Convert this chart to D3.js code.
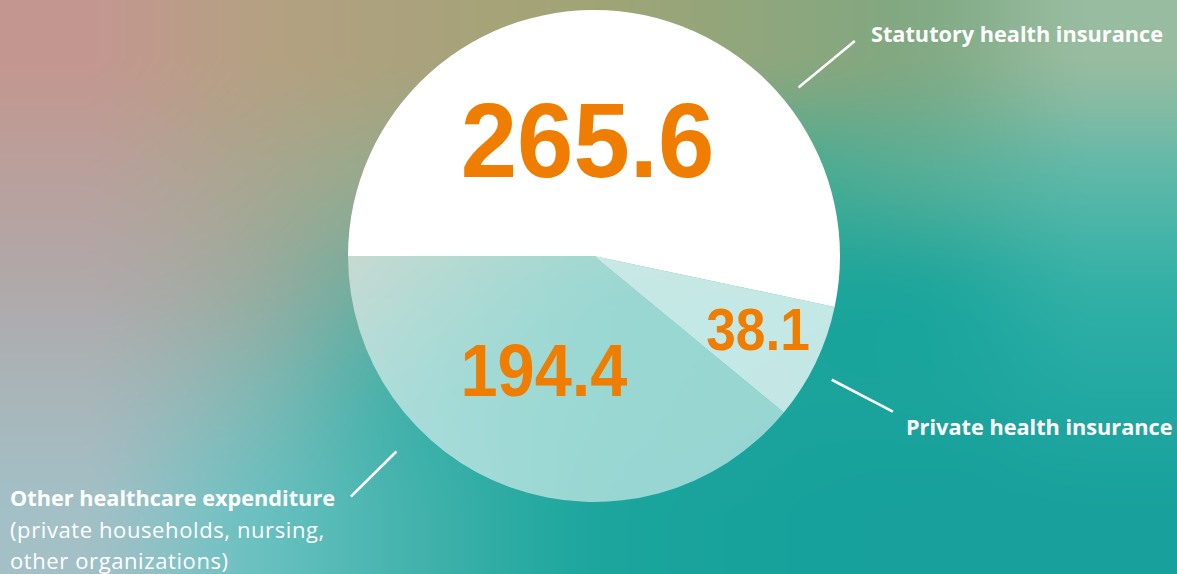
<!DOCTYPE html>
<html>
<head>
<meta charset="utf-8">
<script src="https://cdn.jsdelivr.net/npm/d3@7"></script>
<style>
  html, body { margin: 0; padding: 0; overflow: hidden; }
  svg { display: block; }
</style>
</head>
<body>
<script>
const categories = ['Statutory health insurance', 'Private health insurance', 'Other healthcare expenditure']
const values = [265.6, 38.1, 194.4]
const valueLabels = ['265.6', '38.1', '194.4']
const subLabels = [[], [], ['(private households, nursing,', 'other organizations)']]

const [width, height] = [1177, 574]
const [cx, cy] = [594, 256]
const R = 246

// look of each slice: fill, opacity, number size + horizontal squeeze, where the number sits (polar)
const sliceStyle = [
    {fill: '#ffffff', opacity: 1,    size: 105,  squeeze: 0.965, labelAngle: -3.2,  labelR: 116.7},
    {fill: '#ffffff', opacity: 0.74, size: 58.5, squeeze: 0.91,  labelAngle: 114.0, labelR: 179.5},
    {fill: '#ffffff', opacity: 0.55, size: 75,   squeeze: 0.89,  labelAngle: 203.9, labelR: 123.6}
]
// callouts: angle of the short white line (degrees, clockwise from 12 o'clock), text spot
const callouts = [
    {angle: 50.5,  r0: 265, r1: 338, x: 871, y: 42},
    {angle: 117.5, r0: 268, r1: 337, x: 906, y: 435},
    {angle: 225.3, r0: 278, r1: 342, x: 10,  y: 506}
]

// background colour field, sampled by eye (7 columns x 5 rows, left->right, top->bottom)
const bgGrid = [
    ['#c39790', '#b5a083', '#aaa27c', '#a0a476', '#90a67c', '#82aa84', '#98bca0'],
    ['#b9a09c', '#a8a690', '#8eaa8c', '#6aa890', '#4aaa92', '#56ae96', '#60b8a8'],
    ['#b0a9aa', '#98aca0', '#5cae9e', '#2aa89c', '#20a69a', '#20a69c', '#34b0a6'],
    ['#a8b6ba', '#80b8b4', '#3eb0a8', '#22a89e', '#1ba49c', '#1aa49c', '#22a8a2'],
    ['#a2c0c6', '#6cc0c0', '#42b2ac', '#1ea69e', '#18a29c', '#17a09c', '#18a09c']
]

const svg = d3.select('body')
    .append('svg')
        .attr('width', width)
        .attr('height', height)

// smooth (catmull-rom) colour field painted into a canvas, then used as the backdrop
const paintBackground = (grid) => {
    const rows = grid.length, cols = grid[0].length
    const rgb = grid.map(r => r.map(c => { const o = d3.rgb(c); return [o.r, o.g, o.b] }))
    const cr = (p0, p1, p2, p3, t) =>
        0.5 * (2 * p1 + (p2 - p0) * t + (2 * p0 - 5 * p1 + 4 * p2 - p3) * t * t + (3 * p1 - p0 - 3 * p2 + p3) * t * t * t)
    const clampI = (v, n) => Math.max(0, Math.min(n - 1, v))
    const canvas = document.createElement('canvas')
    canvas.width = width
    canvas.height = height
    const ctx = canvas.getContext('2d')
    const img = ctx.createImageData(width, height)
    // interpolate each grid row along x once per column
    const rowLine = rgb.map(row => {
        const line = new Float32Array(width * 3)
        for (let x = 0; x < width; x++) {
            const g = Math.max(0, Math.min(cols - 1, (x + 0.5) / width * cols - 0.5))
            const i = Math.min(cols - 2, Math.floor(g)), t = g - i
            for (let k = 0; k < 3; k++) {
                line[x * 3 + k] = cr(row[clampI(i - 1, cols)][k], row[i][k], row[i + 1][k], row[clampI(i + 2, cols)][k], t)
            }
        }
        return line
    })
    for (let y = 0; y < height; y++) {
        const g = Math.max(0, Math.min(rows - 1, (y + 0.5) / height * rows - 0.5))
        const j = Math.min(rows - 2, Math.floor(g)), t = g - j
        const a = rowLine[clampI(j - 1, rows)], b = rowLine[j], c = rowLine[j + 1], d = rowLine[clampI(j + 2, rows)]
        for (let x = 0; x < width; x++) {
            const p = (y * width + x) * 4
            for (let k = 0; k < 3; k++) {
                const q = x * 3 + k
                img.data[p + k] = cr(a[q], b[q], c[q], d[q], t)
            }
            img.data[p + 3] = 255
        }
    }
    ctx.putImageData(img, 0, 0)
    return canvas.toDataURL()
}

svg.append('image')
    .attr('href', paintBackground(bgGrid))
    .attr('width', width)
    .attr('height', height)
    .attr('preserveAspectRatio', 'none')

const pie = d3.pie()
    .sort(null)
    .startAngle(-Math.PI / 2)
    .endAngle(Math.PI * 1.5)
    .value(d => d)

const arcs = pie(values)
const arc = d3.arc().innerRadius(0).outerRadius(R)

const chart = svg.append('g').attr('transform', `translate(${cx},${cy})`)

chart.selectAll('path')
    .data(arcs)
    .enter()
    .append('path')
        .attr('d', arc)
        .attr('fill', (d, i) => sliceStyle[i].fill)
        .attr('fill-opacity', (d, i) => sliceStyle[i].opacity)

const polar = (deg, r) => {
    const a = deg * Math.PI / 180
    return [r * Math.sin(a), -r * Math.cos(a)]
}

chart.selectAll('text.value')
    .data(arcs)
    .enter()
    .append('text')
        .attr('class', 'value')
        .text((d, i) => valueLabels[i])
        .attr('transform', (d, i) => {
            const s = sliceStyle[i]
            const [x, y] = polar(s.labelAngle, s.labelR)
            return `translate(${x},${y}) scale(${s.squeeze},1)`
        })
        .attr('text-anchor', 'middle')
        .attr('dy', '0.36em')
        .attr('fill', '#ef7d00')
        .attr('font-family', '"Liberation Sans", Arial, sans-serif')
        .attr('font-weight', 'bold')
        .attr('font-size', (d, i) => sliceStyle[i].size)

// short white callout lines
svg.append('g')
    .attr('transform', `translate(${cx},${cy})`)
    .selectAll('line')
    .data(callouts)
    .enter()
    .append('line')
        .attr('x1', d => polar(d.angle, d.r0)[0])
        .attr('y1', d => polar(d.angle, d.r0)[1])
        .attr('x2', d => polar(d.angle, d.r1)[0])
        .attr('y2', d => polar(d.angle, d.r1)[1])
        .attr('stroke', 'white')
        .attr('stroke-width', 2.6)

const labels = svg.append('g').selectAll('text')
    .data(categories)
    .enter()
    .append('text')
        .attr('x', (d, i) => callouts[i].x)
        .attr('y', (d, i) => callouts[i].y)
        .attr('fill', 'white')
        .attr('font-family', '"Open Sans", sans-serif')

labels.append('tspan')
    .attr('font-weight', 'bold')
    .attr('font-size', 21.7)
    .text(d => d)

labels.each(function(d, i) {
    d3.select(this).selectAll('tspan.sub')
        .data(subLabels[i])
        .enter()
        .append('tspan')
            .attr('class', 'sub')
            .attr('x', callouts[i].x)
            .attr('dy', 31.5)
            .attr('font-size', 22)
            .attr('letter-spacing', 0.6)
            .text(s => s)
})
</script>
</body>
</html>
